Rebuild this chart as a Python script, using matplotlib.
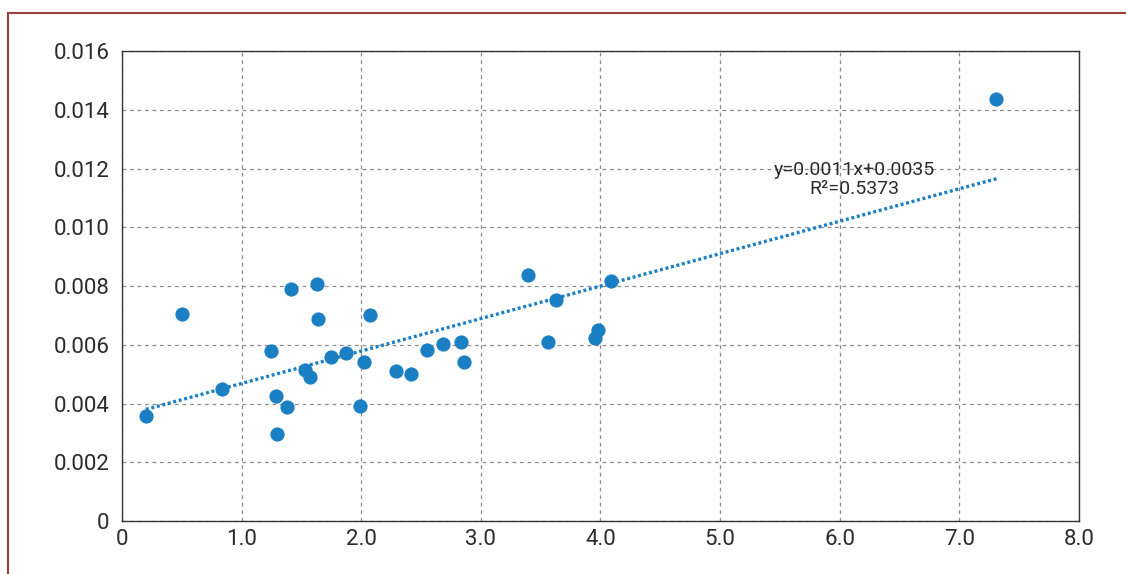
import matplotlib
matplotlib.use("Agg")
import matplotlib.pyplot as plt
from matplotlib.lines import Line2D
import numpy as np

plt.rcParams["font.family"] = ["Roboto", "DejaVu Sans"]

# ===== Data =====
x_vals = [0.20, 0.50, 0.84, 1.25, 1.29, 1.30, 1.38, 1.41, 1.53, 1.57,
          1.63, 1.64, 1.75, 1.87, 1.99, 2.02, 2.07, 2.29, 2.42, 2.55,
          2.68, 2.83, 2.86, 3.39, 3.56, 3.63, 3.95, 3.98, 4.09, 7.31]
y_vals = [0.00357, 0.00705, 0.00449, 0.00579, 0.00426, 0.00296, 0.00388, 0.00790, 0.00514, 0.00490,
          0.00807, 0.00688, 0.00558, 0.00572, 0.00391, 0.00541, 0.00701, 0.00511, 0.00500, 0.00582,
          0.00603, 0.00609, 0.00541, 0.00837, 0.00609, 0.00752, 0.00623, 0.00650, 0.00817, 0.01437]

x_ticks = [0, 1, 2, 3, 4, 5, 6, 7, 8]
x_tick_labels = ["0", "1.0", "2.0", "3.0", "4.0", "5.0", "6.0", "7.0", "8.0"]
y_ticks = [0, 0.002, 0.004, 0.006, 0.008, 0.010, 0.012, 0.014, 0.016]
y_tick_labels = ["0", "0.002", "0.004", "0.006", "0.008", "0.010", "0.012", "0.014", "0.016"]

equation_text = "y=0.0011x+0.0035\nR²=0.5373"

BLUE = "#1b7fc4"
TEXT_COLOR = "#2b2b2b"
FRAME_COLOR = "#9b3f3f"

fig = plt.figure(figsize=(11.26, 5.74), dpi=100)
ax = fig.add_axes([0.1083, 0.0923, 0.85, 0.8188])

# Scatter points
ax.scatter(x_vals, y_vals, s=105, color=BLUE, zorder=3, linewidths=0)

# Linear trend line (least squares fit over the data range)
slope, intercept = np.polyfit(x_vals, y_vals, 1)
x_fit = np.array([min(x_vals), max(x_vals)])
ax.plot(x_fit, slope * x_fit + intercept + 0.00004, color=BLUE, linewidth=2.4,
        linestyle=(0, (0.9, 0.8)), zorder=2)

ax.text(6.12, 0.01162, equation_text, ha="center", va="center",
        fontsize=14, color=TEXT_COLOR, linespacing=1.1, zorder=4)

# Axes styling
ax.set_xlim(0, 8)
ax.set_ylim(0, 0.016)
ax.set_xticks(x_ticks)
ax.set_xticklabels(x_tick_labels)
ax.set_yticks(y_ticks)
ax.set_yticklabels(y_tick_labels)
ax.tick_params(axis="both", length=0, labelsize=16, colors=TEXT_COLOR)
ax.tick_params(axis="x", pad=6)
ax.tick_params(axis="y", pad=9)

ax.grid(True, color="#8c8c8c", linestyle=(0, (3, 3)), linewidth=0.9)
ax.set_axisbelow(True)
for side in ["left", "bottom", "top", "right"]:
    ax.spines[side].set_color("#333333")
    ax.spines[side].set_linewidth(1.0)

# Outer frame (top and left edges only)
fig.add_artist(Line2D([8 / 1126, 1.0], [1 - 13 / 574, 1 - 13 / 574],
                      transform=fig.transFigure, color=FRAME_COLOR, linewidth=1.5))
fig.add_artist(Line2D([8 / 1126, 8 / 1126], [0.0, 1 - 13 / 574],
                      transform=fig.transFigure, color=FRAME_COLOR, linewidth=1.5))

fig.savefig("out.png", dpi=100)
plt.close(fig)
